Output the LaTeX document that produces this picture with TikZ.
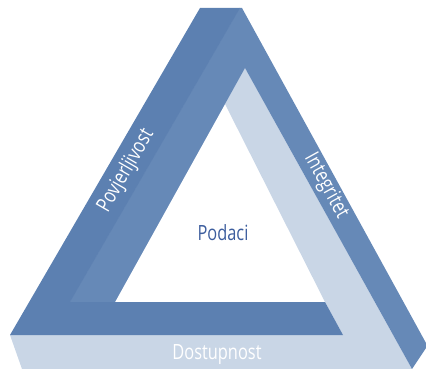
\documentclass[tikz,border=0pt]{standalone}
\usepackage{fontspec}
\newfontfamily\condfont[FakeStretch=0.78]{Open Sans}
\definecolor{barDark}{HTML}{5C80B1}
\definecolor{barLight}{HTML}{6689B7}
\definecolor{faceLight}{HTML}{C9D6E6}
\definecolor{textBlue}{HTML}{3D5E9E}
\tikzset{
  lbl/.style={font=\condfont\fontsize{21}{21}\selectfont, text=white, inner sep=0pt},
  podlbl/.style={font=\condfont\fontsize{21}{21}\selectfont, text=textBlue, inner sep=0pt}
}
\begin{document}
\begin{tikzpicture}[x=1pt,y=-1pt]
\useasboundingbox (0,0) rectangle (426,369);
\clip (0,0) rectangle (426,369);
% light faces (inner face of right bar + bottom face of bottom bar)
\fill[faceLight] (245,68) -- (412,369) -- (22,369) -- (10,335) -- (343,335) -- (325,302) -- (225,104) -- cycle;
% left bar inner strip + right bar (lighter blue)
\fill[barLight] (239.5,8) -- (242,8) -- (426,343) -- (426,348) -- (412,369) -- (245,68) -- (115,302) -- (69.5,302) -- cycle;
% left bar outer strip + bottom bar (darker blue)
\fill[barDark] (200,8) -- (240,8) -- (70,302) -- (325,302) -- (343,335) -- (10,335) -- cycle;
% labels
\node[lbl, rotate=60] (pov) at (126,171) {Povjerljivost};
\node[lbl, rotate=-61] (integ) at (326,186) {Integritet};
\node[lbl] (dost) at (217,355) {Dostupnost};
\node[podlbl] (pod) at (223,233) {Podaci};
\end{tikzpicture}
\end{document}
